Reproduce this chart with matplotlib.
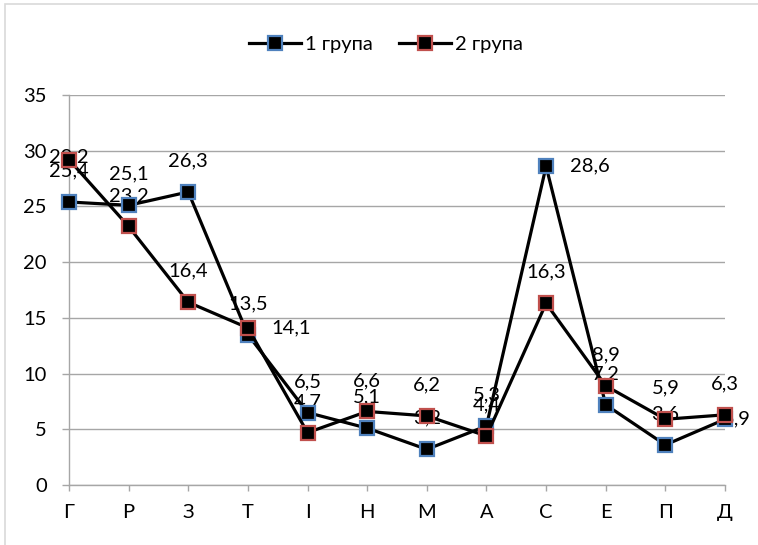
import matplotlib.pyplot as plt
from matplotlib.lines import Line2D
from matplotlib.patches import Rectangle

categories = ['Г', 'Р', 'З', 'Т', 'І', 'Н', 'М', 'А', 'С', 'Е', 'П', 'Д']
group1 = [25.4, 25.1, 26.3, 13.5, 6.5, 5.1, 3.2, 5.3, 28.6, 7.2, 3.6, 5.9]
group2 = [29.2, 23.2, 16.4, 14.1, 4.7, 6.6, 6.2, 4.4, 16.3, 8.9, 5.9, 6.3]
series_names = ['1 група', '2 група']

# label offsets in pixels (dx, dy); default is straight above the marker
ABOVE = (0, 31)
offsets1 = {8: (44, 0), 11: (12, 0)}
offsets2 = {0: (0, 3), 3: (43, 0)}

plt.rcParams['font.family'] = ['Lato', 'DejaVu Sans']
FS = 14.5
GRID = '#a6a6a6'

fig = plt.figure(figsize=(7.58, 5.45), dpi=100)
ax = fig.add_axes([69 / 758, 1 - 485 / 545, (725 - 69) / 758, (485 - 95) / 545])

# outer chart frame
fig.patches.append(Rectangle((5 / 758, -0.1), 1.2, 1 - 4 / 545 + 0.1,
                             transform=fig.transFigure, fill=False,
                             edgecolor='#d9d9d9', linewidth=1.2))

x = list(range(len(categories)))
styles = [('#4f81bd', group1, offsets1), ('#c0504d', group2, offsets2)]
handles = []
for (edge, vals, offs), name in zip(styles, series_names):
    ax.plot(x, vals, color='black', linewidth=2.3, marker='s', markersize=9.5,
            markerfacecolor='black', markeredgecolor=edge, markeredgewidth=1.6,
            clip_on=False, zorder=4)
    for i, v in enumerate(vals):
        dx, dy = offs.get(i, ABOVE)
        ax.annotate(f'{v:.1f}'.replace('.', ','), (i, v), xytext=(dx, dy),
                    textcoords='offset pixels', ha='center', va='center',
                    fontsize=FS, color='black', zorder=3, annotation_clip=False)
    handles.append(Line2D([], [], color='black', linewidth=2.3, marker='s',
                          markersize=9.5, markerfacecolor='black',
                          markeredgecolor=edge, markeredgewidth=1.6))

ax.set_xlim(0, 11)
ax.set_ylim(0, 35)
ax.set_yticks(range(0, 36, 5))
ax.set_xticks(x)
ax.set_xticklabels(categories)
ax.yaxis.grid(True, color=GRID, linewidth=1)
ax.set_axisbelow(True)
for side in ['top', 'right']:
    ax.spines[side].set_visible(False)
for side in ['left', 'bottom']:
    ax.spines[side].set_color(GRID)
    ax.spines[side].set_linewidth(1)
ax.tick_params(axis='y', length=5, width=1, color=GRID, pad=11, labelsize=FS)
ax.tick_params(axis='x', length=4, width=1, color=GRID, pad=10, labelsize=FS)

fig.legend(handles, series_names, loc='center', bbox_to_anchor=(386 / 758, 1 - 44 / 545),
           ncol=2, frameon=False, fontsize=FS, handlelength=2.6,
           handletextpad=0.2, columnspacing=1.3)

fig.savefig('out.png', dpi=100, facecolor='white')
